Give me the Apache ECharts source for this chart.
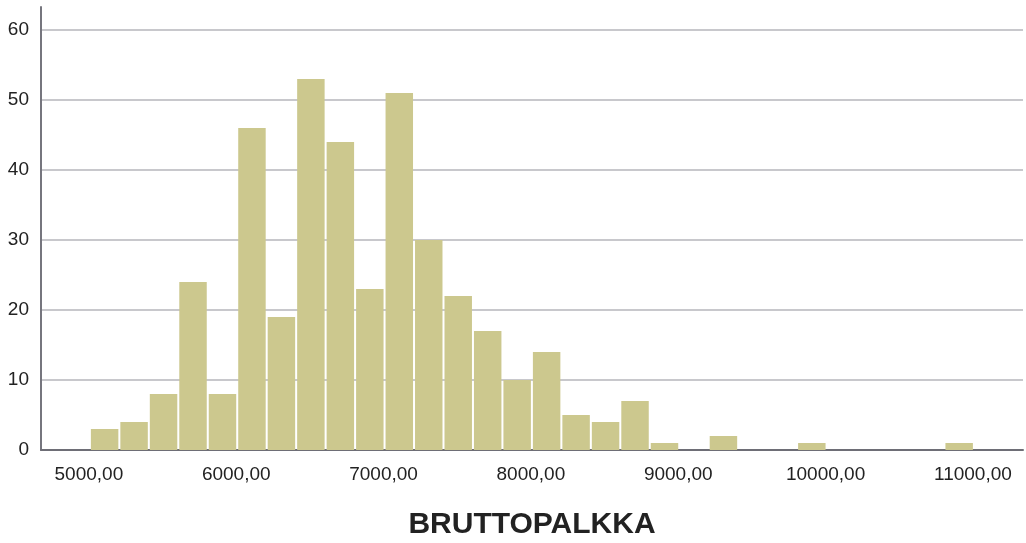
<!DOCTYPE html>
<html>
<head>
<meta charset="utf-8">
<script src="https://cdn.jsdelivr.net/npm/echarts@6/dist/echarts.min.js"></script>
<style>
  html, body { margin: 0; padding: 0; background: #fff; }
  #chart { width: 1026px; height: 543px; }
</style>
</head>
<body>
<div id="chart"></div>
<script>
// histogram bins: start of each bin, width 200
const binStart = [5000, 5200, 5400, 5600, 5800, 6000, 6200, 6400, 6600, 6800,
  7000, 7200, 7400, 7600, 7800, 8000, 8200, 8400, 8600, 8800,
  9000, 9200, 9400, 9600, 9800, 10000, 10200, 10400, 10600, 10800]
const binWidth = 200
const counts = [3, 4, 8, 24, 8, 46, 19, 53, 44, 23,
  51, 30, 22, 17, 10, 14, 5, 4, 7, 1,
  0, 2, 0, 0, 1, 0, 0, 0, 0, 1]
const xTicks = [5000, 6000, 7000, 8000, 9000, 10000, 11000]
const axisName = 'BRUTTOPALKKA'

const chart = echarts.init(document.getElementById('chart'))
const font = "'Liberation Sans', Arial, sans-serif"

const data = binStart.map((s, i) => [s, s + binWidth, counts[i]])

chart.setOption({
  animation: false,
  grid: { left: 41, right: 3, top: 7, bottom: 93, outerBoundsMode: 'none' },
  xAxis: {
    type: 'value',
    min: 4675,
    max: 11340,
    name: axisName,
    nameLocation: 'middle',
    nameGap: 60,
    nameTextStyle: { fontSize: 30, fontWeight: 'bold', color: '#222', fontFamily: font },
    axisLine: { show: true, lineStyle: { color: '#6e6e76', width: 2 } },
    axisTick: { show: false },
    splitLine: { show: false },
    axisLabel: {
      customValues: xTicks,
      fontSize: 19,
      color: '#222',
      fontFamily: font,
      margin: 15,
      formatter: v => v.toFixed(2).replace('.', ',')
    }
  },
  yAxis: {
    type: 'value',
    min: 0,
    max: 63.3,
    interval: 10,
    axisLine: { show: true, lineStyle: { color: '#76767e', width: 2 } },
    axisTick: { show: false },
    splitLine: { showMaxLine: false, lineStyle: { color: '#c8c8cc', width: 2 } },
    axisLabel: {
      fontSize: 19,
      color: '#222',
      fontFamily: font,
      margin: 12,
      showMaxLabel: false
    }
  },
  series: [{
    type: 'custom',
    data: data,
    encode: { x: [0, 1], y: 2 },
    renderItem: function(params, api) {
      if (api.value(2) <= 0) return
      const p0 = api.coord([api.value(0), api.value(2)])
      const p1 = api.coord([api.value(1), 0])
      return {
        type: 'rect',
        shape: { x: p0[0] + 2, y: p0[1], width: p1[0] - p0[0] - 2, height: p1[1] - p0[1] },
        style: { fill: '#ccc88e' }
      }
    }
  }]
})
</script>
</body>
</html>
